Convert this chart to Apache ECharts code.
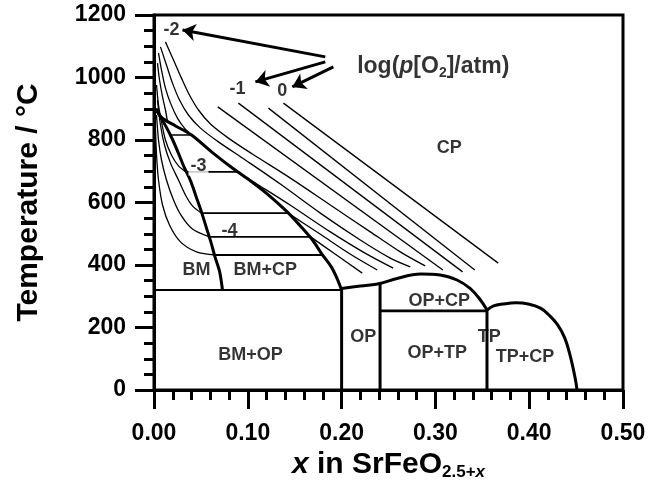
<!DOCTYPE html>
<html><head><meta charset="utf-8">
<script src="https://cdn.jsdelivr.net/npm/echarts@6/dist/echarts.min.js"></script>
<style>html,body{margin:0;padding:0;background:#fff}#c{width:650px;height:495px}</style>
</head><body><div id="c"></div>
<script>
// ---- axes ----
const xMin = 0, xMax = 0.5, xStep = 0.1;
const yMin = 0, yMax = 1200, yStep = 200;
const xTickLabels = ['0.00','0.10','0.20','0.30','0.40','0.50'];
const yTickLabels = ['0','200','400','600','800','1000','1200'];

// ---- phase boundaries (x, T/°C) ----
const bmBoundary = [[0.002,900],[0.007,874],[0.013,842],[0.020,800],[0.026,758],[0.032,714],[0.039,669],[0.045,618],[0.051,566],[0.056,518],[0.061,470],[0.065,426],[0.070,378],[0.073,320]];
const cpBoundary = [[0.002,900],[0.008,872],[0.023,845],[0.040,816],[0.063,758],[0.085,707],[0.103,669],[0.121,627],[0.142,570],[0.156,525],[0.169,480],[0.179,435],[0.189,394],[0.195,358],[0.200,320]];
const opDome = [[0.200,325],[0.220,333],[0.241,341],[0.259,357],[0.284,371],[0.305,368],[0.323,352],[0.337,325],[0.348,288],[0.355,256]];
const tpDome = [[0.355,256],[0.362,269],[0.372,275],[0.386,279],[0.399,275],[0.412,262],[0.421,240],[0.430,210],[0.438,166],[0.444,106],[0.449,38],[0.451,0]];
const vLine020 = [[0.200,0],[0.200,320]];
const vLine024 = [[0.241,0],[0.241,341]];
const vLine355 = [[0.355,0],[0.355,256]];
const hLine320 = [[0,320],[0.200,320]];
const hLine253 = [[0.241,253],[0.355,253]];

// ---- tie lines in BM+CP ----
const tie816 = [[0.017,816],[0.040,816]];
const tie698 = [[0.034,698],[0.089,698]];
const tie566 = [[0.051,566],[0.142,566]];
const tie490 = [[0.059,490],[0.166,490]];
const tie432 = [[0.0645,432],[0.1795,432]];

// ---- isobars, CP region ----
const isoS1 = [[0.138,918],[0.367,406]];
const isoS2 = [[0.122,902],[0.342,384]];
const isoS3 = [[0.090,918],[0.329,378]];
const isoS4 = [[0.068,906],[0.308,384]];
const isoA = [[0.0122,1114],[0.0208,1056],[0.0293,998],[0.0378,944],[0.0474,896],[0.0602,851],[0.0793,806],[0.1049,755],[0.1454,678],[0.1880,592],[0.2306,506],[0.2625,442],[0.2891,397]];
const isoB = [[0.0069,1098],[0.0133,1040],[0.0197,982],[0.0272,928],[0.0367,880],[0.0495,838],[0.0687,794],[0.0974,736],[0.1347,659],[0.1773,566],[0.2199,480],[0.2519,422],[0.2732,394]];
const isoC = [[0.0048,1078],[0.0080,1024],[0.0122,966],[0.0176,918],[0.0250,870],[0.0325,838],[0.0399,816]];
const isoD = [[0.0037,1046],[0.0059,992],[0.0091,938],[0.0122,896],[0.0144,858]];
const isoP1 = [[0.089,698],[0.113,653],[0.145,592],[0.188,506],[0.225,438],[0.255,390]];
const isoP2 = [[0.143,566],[0.177,499],[0.209,435],[0.238,384]];
const isoP3 = [[0.167,490],[0.193,435],[0.222,374]];

// ---- isobars, BM region ----
const isoM1 = [[0.0027,976],[0.0048,912],[0.0080,858],[0.0122,800],[0.0186,752],[0.0261,717],[0.0340,698]];
const isoM2 = [[0.0037,928],[0.0069,848],[0.0112,784],[0.0176,726],[0.0261,672],[0.0335,624],[0.0410,589],[0.0506,566]];
const isoM3 = [[0.0027,880],[0.0048,800],[0.0080,736],[0.0133,672],[0.0208,608],[0.0293,557],[0.0410,515],[0.0591,490]];
const isoM4 = [[0.0016,832],[0.0027,752],[0.0048,672],[0.0091,592],[0.0165,528],[0.0282,474],[0.0453,442],[0.0655,432]];

// ---- text labels ----
const phaseNames = ['CP','BM','BM+CP','BM+OP','OP','OP+CP','OP+TP','TP','TP+CP'];
const phasePos = [[0.3147,774],[0.0453,384],[0.1187,384],[0.1028,112],[0.2231,170],[0.3040,285],[0.3019,118],[0.3573,170],[0.3956,106]];
const logNames = ['-2','-1','0','-3','-4'];
const logPos = [[0.0186,1152],[0.0889,963],[0.1368,957],[0.0474,716],[0.0804,509]];
const legendPos = [0.2977,1034];
const arrows = [
  [[0.1826,1066],[0.0304,1152]],
  [[0.1826,1050],[0.1081,986]],
  [[0.1912,1034],[0.1475,970]]
];

const FONT = 'Liberation Sans, Arial, Helvetica, sans-serif';
function ln(data, width, smooth) {
  return {type:'line', data:data, symbol:'none', showSymbol:false, silent:true, animation:false,
    smooth: smooth || false, lineStyle:{color:'#000', width:width}, z:3};
}
const series = [
  ln(isoS1,1.3), ln(isoS2,1.3), ln(isoS3,1.3), ln(isoS4,1.3),
  ln(isoA,1.3,0.3), ln(isoB,1.3,0.3), ln(isoC,1.3,0.3), ln(isoD,1.3,0.3),
  ln(isoP1,1.3,0.3), ln(isoP2,1.3,0.3), ln(isoP3,1.3,0.3),
  ln(isoM1,1.3,0.3), ln(isoM2,1.3,0.3), ln(isoM3,1.3,0.3), ln(isoM4,1.3,0.3),
  ln(tie816,1.6), ln(tie698,1.8), ln(tie566,1.8), ln(tie490,1.8), ln(tie432,1.8),
  ln(hLine320,2.2), ln(hLine253,2.8),
  ln(bmBoundary,3,0.3), ln(cpBoundary,3,0.3), ln(opDome,3,0.4), ln(tpDome,3,0.4),
  ln(vLine020,3), ln(vLine024,3), ln(vLine355,3),
  {type:'lines', coordinateSystem:'cartesian2d', silent:true, animation:false, z:5,
    symbol:['none','arrow'], symbolSize:[0,13],
    lineStyle:{color:'#000', width:3, opacity:1},
    data: arrows.map(a => ({coords:a}))},
  {type:'scatter', symbolSize:1, itemStyle:{color:'rgba(0,0,0,0)'}, silent:true, animation:false, z:6,
    label:{show:true, position:'inside', formatter:'{b}', color:'#000', fontFamily:FONT, fontWeight:'bold', fontSize:18},
    data: phaseNames.map((n,i) => ({name:n, value:phasePos[i]}))},
  {type:'scatter', symbolSize:1, itemStyle:{color:'rgba(0,0,0,0)'}, silent:true, animation:false, z:6,
    label:{show:true, position:'inside', formatter:'{b}', color:'#000', fontFamily:FONT, fontWeight:'bold', fontSize:18},
    data: logNames.map((n,i) => {
      const d = {name:n, value:logPos[i]};
      if (n === '-3') d.label = {backgroundColor:'#fff', padding:[1,2,0,2]};
      return d;
    })},
  {type:'scatter', symbolSize:1, itemStyle:{color:'rgba(0,0,0,0)'}, silent:true, animation:false, z:6,
    label:{show:true, position:'inside', color:'#000',
      formatter:'{n|log(}{i|p}{n|[O}{s|2}{n|]/atm)}',
      rich:{
        n:{fontFamily:FONT, fontWeight:'bold', fontSize:23, lineHeight:26, color:'#000'},
        i:{fontFamily:FONT, fontWeight:'bold', fontStyle:'italic', fontSize:23, lineHeight:26, color:'#000'},
        s:{fontFamily:FONT, fontWeight:'bold', fontSize:14, lineHeight:14, verticalAlign:'bottom', color:'#000'}
      }},
    data:[{name:'log', value:legendPos}]}
];

const chart = echarts.init(document.getElementById('c'), null, {renderer:'canvas'});
chart.setOption({
  animation:false,
  backgroundColor:'#fff',
  grid:{left:154, right:27, top:15, bottom:105, containLabel:false, outerBoundsMode:'none',
    show:true, borderColor:'#000', borderWidth:3, backgroundColor:'rgba(0,0,0,0)'},
  xAxis:{type:'value', min:xMin, max:xMax, interval:xStep,
    splitLine:{show:false},
    axisLine:{show:true, onZero:false, lineStyle:{color:'#000', width:3}},
    axisTick:{show:true, inside:false, length:19, lineStyle:{color:'#000', width:3}},
    minorTick:{show:true, splitNumber:5, length:10, lineStyle:{color:'#000', width:3}},
    minorSplitLine:{show:false},
    axisLabel:{margin:32, color:'#000', fontFamily:FONT, fontWeight:'bold', fontSize:23,
      formatter:(v) => xTickLabels[Math.round(v / xStep)]},
    name:'{xi|x}{n| in SrFeO}{s|2.5+}{si|x}', nameLocation:'middle', nameGap:50,
    nameTextStyle:{rich:{
      xi:{fontFamily:FONT, fontWeight:'bold', fontStyle:'italic', fontSize:30, lineHeight:32, color:'#000'},
      n:{fontFamily:FONT, fontWeight:'bold', fontSize:30, lineHeight:32, color:'#000'},
      s:{fontFamily:FONT, fontWeight:'bold', fontSize:17, lineHeight:17, verticalAlign:'bottom', color:'#000'},
      si:{fontFamily:FONT, fontWeight:'bold', fontStyle:'italic', fontSize:17, lineHeight:17, verticalAlign:'bottom', color:'#000'}
    }}},
  yAxis:{type:'value', min:yMin, max:yMax, interval:yStep,
    splitLine:{show:false},
    axisLine:{show:true, onZero:false, lineStyle:{color:'#000', width:3}},
    axisTick:{show:true, inside:false, length:19, lineStyle:{color:'#000', width:3}},
    minorTick:{show:true, splitNumber:4, length:10, lineStyle:{color:'#000', width:3}},
    minorSplitLine:{show:false},
    axisLabel:{margin:28, color:'#000', fontFamily:FONT, fontWeight:'bold', fontSize:23,
      formatter:(v) => yTickLabels[Math.round(v / yStep)]},
    name:'Temperature / °C', nameLocation:'middle', nameGap:110,
    nameTextStyle:{color:'#000', fontFamily:FONT, fontWeight:'bold', fontSize:30}},
  series: series
});
</script></body></html>
